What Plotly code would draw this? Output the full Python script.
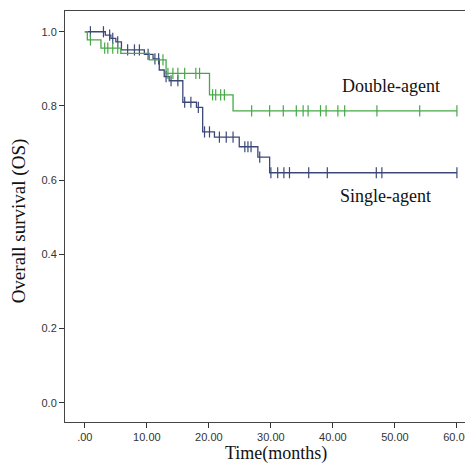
import plotly.graph_objects as go

# ---- data ----
single_times = [0, 3.3, 4.2, 5.0, 5.9, 9.6, 11.0, 12.0, 12.8, 13.6, 15.8, 18.0, 19.0, 20.9, 24.9, 27.9, 29.8]
single_surv = [1.0, 0.991, 0.982, 0.973, 0.951, 0.939, 0.927, 0.897, 0.879, 0.868, 0.810, 0.796, 0.730, 0.716, 0.690, 0.662, 0.620]
single_censor = [0.9, 3.0, 4.0, 4.5, 5.3, 6.9, 8.0, 8.8, 10.2, 11.3, 11.9, 13.1, 13.9, 15.0, 16.1, 17.1,
                 18.3, 19.3, 20.1, 21.7, 22.8, 23.9, 25.8, 26.3, 26.8, 28.2, 30.0, 31.1, 32.1, 33.0,
                 36.1, 39.1, 47.0, 47.9, 60.0]

double_times = [0, 0.4, 2.6, 5.8, 10.4, 13.1, 20.1, 23.9]
double_surv = [1.0, 0.978, 0.956, 0.942, 0.924, 0.888, 0.830, 0.787]
double_censor = [0.9, 3.2, 3.7, 4.5, 5.3, 12.6, 13.4, 14.2, 15.0, 16.1, 17.9, 18.5, 20.6, 21.1, 21.9,
                 22.5, 26.9, 29.8, 32.0, 34.1, 35.2, 36.0, 38.0, 38.9, 40.8, 41.9, 47.1, 54.0, 60.0]

x_ticks = [0, 10, 20, 30, 40, 50, 60]
x_tick_labels = [".00", "10.00", "20.00", "30.00", "40.00", "50.00", "60.00"]
y_ticks = [0.0, 0.2, 0.4, 0.6, 0.8, 1.0]
y_tick_labels = ["0.0", "0.2", "0.4", "0.6", "0.8", "1.0"]

group_names = ["Single-agent", "Double-agent"]
end_time = 60.0

BLUE = "#3b4878"
GREEN = "#47a847"


def surv_at(t, times, surv):
    s = surv[0]
    for ti, si in zip(times, surv):
        if ti <= t:
            s = si
    return s


fig = go.Figure()
for name, times, surv, cens, col in [
    (group_names[0], single_times, single_surv, single_censor, BLUE),
    (group_names[1], double_times, double_surv, double_censor, GREEN),
]:
    xs = list(times) + [end_time]
    ys = list(surv) + [surv[-1]]
    fig.add_trace(go.Scatter(x=xs, y=ys, mode="lines", line=dict(color=col, width=1.3, shape="hv"),
                             showlegend=False, hoverinfo="skip"))
    fig.add_trace(go.Scatter(x=cens, y=[surv_at(c, times, surv) for c in cens], mode="markers",
                             marker=dict(symbol="line-ns-open", size=8, color=col,
                                         line=dict(color=col, width=1.2)),
                             showlegend=False, hoverinfo="skip"))

tickfont = dict(family="Liberation Sans, Arial", size=11, color="#333333")

fig.update_layout(
    width=473, height=463,
    margin=dict(l=57, r=3, t=3, b=49),
    paper_bgcolor="white", plot_bgcolor="white",
    xaxis=dict(range=[-3.2, 63.4], tickvals=x_ticks, ticktext=x_tick_labels, ticks="outside",
               ticklen=5, tickcolor="#333", showgrid=False, zeroline=False, showline=True,
               linecolor="#444", linewidth=1, mirror=True, tickfont=tickfont),
    yaxis=dict(range=[-0.052, 1.056], tickvals=y_ticks, ticktext=y_tick_labels, ticks="outside",
               ticklen=5, tickcolor="#333", showgrid=False, zeroline=False, showline=True,
               linecolor="#444", linewidth=1, mirror=True, tickfont=tickfont),
    annotations=[
        dict(text="Time(months)", xref="paper", yref="paper", x=0.51, y=-0.076, yanchor="middle",
             showarrow=False, font=dict(family="Liberation Serif, Times New Roman", size=18, color="#111")),
        dict(text="Overall survival (OS)", xref="paper", yref="paper", x=-0.112, y=0.49,
             xanchor="center", yanchor="middle", textangle=-90,
             showarrow=False, font=dict(family="Liberation Serif, Times New Roman", size=19, color="#111")),
        dict(text=group_names[1], x=49.3, y=0.854, xref="x", yref="y", showarrow=False,
             font=dict(family="Liberation Serif, Times New Roman", size=18, color="#111")),
        dict(text=group_names[0], x=48.5, y=0.556, xref="x", yref="y", showarrow=False,
             font=dict(family="Liberation Serif, Times New Roman", size=18, color="#111")),
    ],
)

fig.write_html("out.html")
